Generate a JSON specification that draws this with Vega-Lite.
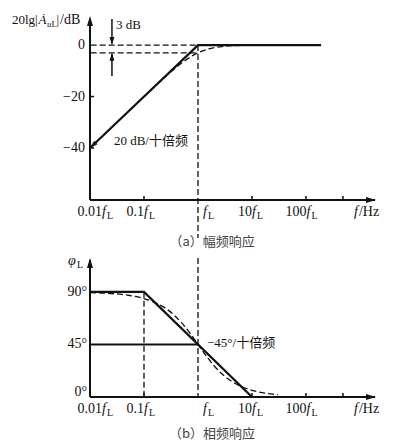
{
  "$schema": "https://vega.github.io/schema/vega-lite/v6.json",
  "padding": {"left": 12, "top": 13, "right": 0, "bottom": 0},
  "autosize": {"type": "pad"},
  "background": "white",
  "bounds": "flush",
  "spacing": 58,
  "config": {
    "view": {"stroke": null},
    "text": {"font": "Liberation Serif", "fontSize": 14, "color": "#111"}
  },
  "datasets": {
    "magSolid": [{"f": 0.01, "db": -40}, {"f": 1, "db": 0}, {"f": 190, "db": 0}],
    "magCurve": [
      {"f": 0.1, "db": -20.04}, {"f": 0.2, "db": -14.15}, {"f": 0.3, "db": -10.83},
      {"f": 0.5, "db": -6.99}, {"f": 0.7, "db": -4.83}, {"f": 1, "db": -3.01},
      {"f": 1.5, "db": -1.6}, {"f": 2, "db": -0.97}, {"f": 3, "db": -0.46},
      {"f": 5, "db": -0.17}, {"f": 10, "db": -0.04}
    ],
    "dashA": [
      {"f": 0.0103, "f2": 1, "db": 0, "db2": 0},
      {"f": 0.0103, "f2": 1, "db": -3, "db2": -3},
      {"f": 1, "f2": 1, "db": 0, "db2": -75}
    ],
    "ticksX": [{"f": 0.1}, {"f": 10}, {"f": 100}, {"f": 484}],
    "ticksYA": [{"db": -20}, {"db": -40}],
    "ylabA": [{"db": 0, "t": "0"}, {"db": -20, "t": "−20"}, {"db": -40, "t": "−40"}],
    "xlab": [
      {"num": "0.01", "at": 0.0167}, {"num": "0.1", "at": 0.1}, {"num": "", "at": 1.24},
      {"num": "10", "at": 10}, {"num": "100", "at": 102}
    ],
    "dbArrows": [{"f": 0.0255, "db": 10.1, "db2": 0.5}, {"f": 0.0255, "db": -12, "db2": -3.5}],
    "annA": [{"f": 0.0255, "db": 6.2, "t": "3 dB"}, {"f": 0.0234, "db": -38.9, "t": "20 dB/十倍频"}],
    "capA": [{"f": 1.82, "db": -76.5, "t": "（a）幅频响应"}],
    "phSolid": [{"f": 0.01, "deg": 90}, {"f": 0.1, "deg": 90}, {"f": 10, "deg": 0}],
    "phCurve": [
      {"f": 0.01, "deg": 89.43}, {"f": 0.02, "deg": 88.85}, {"f": 0.05, "deg": 87.14},
      {"f": 0.1, "deg": 84.29}, {"f": 0.2, "deg": 78.69}, {"f": 0.3, "deg": 73.3},
      {"f": 0.5, "deg": 63.43}, {"f": 0.7, "deg": 55.01}, {"f": 1, "deg": 45},
      {"f": 1.5, "deg": 33.69}, {"f": 2, "deg": 26.57}, {"f": 3, "deg": 18.43},
      {"f": 5, "deg": 11.31}, {"f": 7, "deg": 8.13}, {"f": 10, "deg": 5.71},
      {"f": 20, "deg": 2.86}, {"f": 30, "deg": 1.91}
    ],
    "solidB": [{"f": 0.01, "f2": 1, "deg": 45, "deg2": 45}],
    "dashB": [{"f": 0.1, "f2": 0.1, "deg": 90, "deg2": 0}, {"f": 1, "f2": 1, "deg": 119, "deg2": 0}],
    "ylabB": [{"deg": 90, "t": "90°"}, {"deg": 45, "t": "45°"}, {"deg": 4, "t": "0°"}],
    "annB": [{"f": 1.468, "deg": 42.9, "t": "−45°/十倍频"}],
    "capB": [{"f": 1.82, "deg": -31.7, "t": "（b）相频响应"}]
  },
  "vconcat": [
    {
      "width": 286,
      "height": 184,
      "layer": [
        {
          "data": {"values": [{}]},
          "mark": {"type": "rule", "strokeWidth": 2, "color": "#111"},
          "encoding": {
            "x": {"datum": 0.01, "type": "quantitative", "scale": {"type": "log", "domain": [0.01, 1980], "nice": false}, "axis": null},
            "y": {"datum": -60.2, "type": "quantitative", "scale": {"domain": [-60.2, 11.3], "nice": false, "zero": false}, "axis": null},
            "y2": {"datum": 9}
          }
        },
        {
          "data": {"values": [{}]},
          "mark": {"type": "rule", "strokeWidth": 2, "color": "#111"},
          "encoding": {"x": {"datum": 0.01, "type": "quantitative"}, "x2": {"datum": 1900}, "y": {"datum": -60.2, "type": "quantitative"}}
        },
        {
          "data": {"values": [{}]},
          "mark": {"type": "point", "shape": "M0,0L-0.6,2L0.6,2Z", "filled": true, "size": 100, "color": "#111", "opacity": 1, "strokeWidth": 0},
          "encoding": {"x": {"datum": 0.01, "type": "quantitative"}, "y": {"datum": 11.3, "type": "quantitative"}}
        },
        {
          "data": {"values": [{}]},
          "mark": {"type": "point", "shape": "M0,0L-0.6,2L0.6,2Z", "filled": true, "size": 100, "angle": 90, "color": "#111", "opacity": 1, "strokeWidth": 0},
          "encoding": {"x": {"datum": 1980, "type": "quantitative"}, "y": {"datum": -60.2, "type": "quantitative"}}
        },
        {
          "data": {"name": "ticksX"},
          "mark": {"type": "rule", "strokeWidth": 1.5, "color": "#111"},
          "encoding": {"x": {"field": "f", "type": "quantitative"}, "y": {"datum": -60.2, "type": "quantitative"}, "y2": {"datum": -58.6}}
        },
        {
          "data": {"name": "ticksYA"},
          "mark": {"type": "rule", "strokeWidth": 1.5, "color": "#111"},
          "encoding": {"x": {"datum": 0.01, "type": "quantitative"}, "x2": {"datum": 0.0119}, "y": {"field": "db", "type": "quantitative"}}
        },
        {
          "data": {"name": "dashA"},
          "mark": {"type": "rule", "strokeWidth": 1.3, "strokeDash": [6, 3], "color": "#111"},
          "encoding": {
            "x": {"field": "f", "type": "quantitative"}, "x2": {"field": "f2"},
            "y": {"field": "db", "type": "quantitative"}, "y2": {"field": "db2"}
          }
        },
        {
          "data": {"name": "magCurve"},
          "mark": {"type": "line", "strokeWidth": 1.3, "strokeDash": [6, 3], "color": "#111", "interpolate": "monotone"},
          "encoding": {"x": {"field": "f", "type": "quantitative"}, "y": {"field": "db", "type": "quantitative"}}
        },
        {
          "data": {"name": "magSolid"},
          "mark": {"type": "line", "strokeWidth": 2.2, "color": "#111"},
          "encoding": {"x": {"field": "f", "type": "quantitative"}, "y": {"field": "db", "type": "quantitative"}}
        },
        {
          "data": {"values": [{}]},
          "mark": {"type": "point", "shape": "M0,0L-0.6,2L0.6,2Z", "filled": true, "size": 64, "angle": 227, "color": "#111", "opacity": 1, "strokeWidth": 0},
          "encoding": {"x": {"datum": 0.01, "type": "quantitative"}, "y": {"datum": -40, "type": "quantitative"}}
        },
        {
          "data": {"name": "dbArrows"},
          "mark": {"type": "rule", "strokeWidth": 1.5, "color": "#111"},
          "encoding": {"x": {"field": "f", "type": "quantitative"}, "y": {"field": "db", "type": "quantitative"}, "y2": {"field": "db2"}}
        },
        {
          "data": {"values": [{}]},
          "mark": {"type": "point", "shape": "M0,0L-0.6,2L0.6,2Z", "filled": true, "size": 64, "angle": 180, "color": "#111", "opacity": 1, "strokeWidth": 0},
          "encoding": {"x": {"datum": 0.0255, "type": "quantitative"}, "y": {"datum": 0, "type": "quantitative"}}
        },
        {
          "data": {"values": [{}]},
          "mark": {"type": "point", "shape": "M0,0L-0.6,2L0.6,2Z", "filled": true, "size": 64, "angle": 0, "color": "#111", "opacity": 1, "strokeWidth": 0},
          "encoding": {"x": {"datum": 0.0255, "type": "quantitative"}, "y": {"datum": -3, "type": "quantitative"}}
        },
        {
          "data": {"name": "ylabA"},
          "mark": {"type": "text", "align": "right", "baseline": "middle", "dx": -5},
          "encoding": {"x": {"datum": 0.01, "type": "quantitative"}, "y": {"field": "db", "type": "quantitative"}, "text": {"field": "t"}}
        },
        {
          "data": {"name": "xlab"},
          "mark": {"type": "text", "align": "right", "baseline": "alphabetic", "dy": 16},
          "encoding": {"x": {"field": "at", "type": "quantitative"}, "y": {"datum": -60.2, "type": "quantitative"}, "text": {"field": "num"}}
        },
        {
          "data": {"name": "xlab"},
          "mark": {"type": "text", "align": "left", "baseline": "alphabetic", "dy": 16, "fontStyle": "italic", "text": "f"},
          "encoding": {"x": {"field": "at", "type": "quantitative"}, "y": {"datum": -60.2, "type": "quantitative"}}
        },
        {
          "data": {"name": "xlab"},
          "mark": {"type": "text", "align": "left", "baseline": "alphabetic", "dy": 19, "dx": 5, "fontSize": 10, "text": "L"},
          "encoding": {"x": {"field": "at", "type": "quantitative"}, "y": {"datum": -60.2, "type": "quantitative"}}
        },
        {
          "data": {"values": [{}]},
          "mark": {"type": "text", "align": "left", "baseline": "alphabetic", "dy": 16, "fontStyle": "italic", "text": "f"},
          "encoding": {"x": {"datum": 774, "type": "quantitative"}, "y": {"datum": -60.2, "type": "quantitative"}}
        },
        {
          "data": {"values": [{}]},
          "mark": {"type": "text", "align": "left", "baseline": "alphabetic", "dy": 16, "dx": 5, "text": "/Hz"},
          "encoding": {"x": {"datum": 774, "type": "quantitative"}, "y": {"datum": -60.2, "type": "quantitative"}}
        },
        {
          "data": {"values": [{}]},
          "mark": {"type": "text", "align": "left", "baseline": "alphabetic", "dx": -78, "dy": 8, "fontSize": 13, "text": "20lg"},
          "encoding": {"x": {"datum": 0.01, "type": "quantitative"}, "y": {"datum": 11.3, "type": "quantitative"}}
        },
        {
          "data": {"values": [{}]},
          "mark": {"type": "text", "align": "left", "baseline": "alphabetic", "dx": -55, "dy": 8, "fontSize": 13, "text": "|"},
          "encoding": {"x": {"datum": 0.01, "type": "quantitative"}, "y": {"datum": 11.3, "type": "quantitative"}}
        },
        {
          "data": {"values": [{}]},
          "mark": {"type": "text", "align": "left", "baseline": "alphabetic", "dx": -51.5, "dy": 8, "fontSize": 13, "fontStyle": "italic", "text": "Ȧ"},
          "encoding": {"x": {"datum": 0.01, "type": "quantitative"}, "y": {"datum": 11.3, "type": "quantitative"}}
        },
        {
          "data": {"values": [{}]},
          "mark": {"type": "text", "align": "left", "baseline": "alphabetic", "dx": -43, "dy": 11, "fontSize": 9, "fontStyle": "italic", "text": "u"},
          "encoding": {"x": {"datum": 0.01, "type": "quantitative"}, "y": {"datum": 11.3, "type": "quantitative"}}
        },
        {
          "data": {"values": [{}]},
          "mark": {"type": "text", "align": "left", "baseline": "alphabetic", "dx": -38.5, "dy": 11, "fontSize": 9, "text": "L"},
          "encoding": {"x": {"datum": 0.01, "type": "quantitative"}, "y": {"datum": 11.3, "type": "quantitative"}}
        },
        {
          "data": {"values": [{}]},
          "mark": {"type": "text", "align": "left", "baseline": "alphabetic", "dx": -33.5, "dy": 8, "fontSize": 13, "text": "|"},
          "encoding": {"x": {"datum": 0.01, "type": "quantitative"}, "y": {"datum": 11.3, "type": "quantitative"}}
        },
        {
          "data": {"values": [{}]},
          "mark": {"type": "text", "align": "left", "baseline": "alphabetic", "dx": -30, "dy": 8, "fontSize": 14, "text": "/dB"},
          "encoding": {"x": {"datum": 0.01, "type": "quantitative"}, "y": {"datum": 11.3, "type": "quantitative"}}
        },
        {
          "data": {"name": "annA"},
          "mark": {"type": "text", "align": "left", "baseline": "alphabetic", "dx": 4, "fontSize": 13, "font": "Liberation Serif, Noto Sans CJK SC"},
          "encoding": {"x": {"field": "f", "type": "quantitative"}, "y": {"field": "db", "type": "quantitative"}, "text": {"field": "t"}}
        },
        {
          "data": {"name": "capA"},
          "mark": {"type": "text", "align": "center", "baseline": "middle", "fontSize": 13, "color": "#444", "font": "Noto Sans CJK SC"},
          "encoding": {"x": {"field": "f", "type": "quantitative"}, "y": {"field": "db", "type": "quantitative"}, "text": {"field": "t"}}
        }
      ]
    },
    {
      "width": 286,
      "height": 139,
      "layer": [
        {
          "data": {"values": [{}]},
          "mark": {"type": "rule", "strokeWidth": 2, "color": "#111"},
          "encoding": {
            "x": {"datum": 0.01, "type": "quantitative", "scale": {"type": "log", "domain": [0.01, 1980], "nice": false}, "axis": null},
            "y": {"datum": 0, "type": "quantitative", "scale": {"domain": [0, 119], "nice": false, "zero": false}, "axis": null},
            "y2": {"datum": 117}
          }
        },
        {
          "data": {"values": [{}]},
          "mark": {"type": "rule", "strokeWidth": 2, "color": "#111"},
          "encoding": {"x": {"datum": 0.01, "type": "quantitative"}, "x2": {"datum": 1900}, "y": {"datum": 0, "type": "quantitative"}}
        },
        {
          "data": {"values": [{}]},
          "mark": {"type": "point", "shape": "M0,0L-0.6,2L0.6,2Z", "filled": true, "size": 100, "color": "#111", "opacity": 1, "strokeWidth": 0},
          "encoding": {"x": {"datum": 0.01, "type": "quantitative"}, "y": {"datum": 119, "type": "quantitative"}}
        },
        {
          "data": {"values": [{}]},
          "mark": {"type": "point", "shape": "M0,0L-0.6,2L0.6,2Z", "filled": true, "size": 100, "angle": 90, "color": "#111", "opacity": 1, "strokeWidth": 0},
          "encoding": {"x": {"datum": 1980, "type": "quantitative"}, "y": {"datum": 0, "type": "quantitative"}}
        },
        {
          "data": {"name": "ticksX"},
          "mark": {"type": "rule", "strokeWidth": 1.5, "color": "#111"},
          "encoding": {"x": {"field": "f", "type": "quantitative"}, "y": {"datum": 0, "type": "quantitative"}, "y2": {"datum": 3.4}}
        },
        {
          "data": {"name": "dashB"},
          "mark": {"type": "rule", "strokeWidth": 1.3, "strokeDash": [6, 3], "color": "#111"},
          "encoding": {
            "x": {"field": "f", "type": "quantitative"}, "x2": {"field": "f2"},
            "y": {"field": "deg", "type": "quantitative"}, "y2": {"field": "deg2"}
          }
        },
        {
          "data": {"name": "solidB"},
          "mark": {"type": "rule", "strokeWidth": 2, "color": "#111"},
          "encoding": {
            "x": {"field": "f", "type": "quantitative"}, "x2": {"field": "f2"},
            "y": {"field": "deg", "type": "quantitative"}
          }
        },
        {
          "data": {"name": "phCurve"},
          "mark": {"type": "line", "strokeWidth": 1.3, "strokeDash": [6, 3], "color": "#111", "interpolate": "monotone"},
          "encoding": {"x": {"field": "f", "type": "quantitative"}, "y": {"field": "deg", "type": "quantitative"}}
        },
        {
          "data": {"name": "phSolid"},
          "mark": {"type": "line", "strokeWidth": 2.2, "color": "#111"},
          "encoding": {"x": {"field": "f", "type": "quantitative"}, "y": {"field": "deg", "type": "quantitative"}}
        },
        {
          "data": {"name": "ylabB"},
          "mark": {"type": "text", "align": "right", "baseline": "middle", "dx": -3},
          "encoding": {"x": {"datum": 0.01, "type": "quantitative"}, "y": {"field": "deg", "type": "quantitative"}, "text": {"field": "t"}}
        },
        {
          "data": {"name": "xlab"},
          "mark": {"type": "text", "align": "right", "baseline": "alphabetic", "dy": 16},
          "encoding": {"x": {"field": "at", "type": "quantitative"}, "y": {"datum": 0, "type": "quantitative"}, "text": {"field": "num"}}
        },
        {
          "data": {"name": "xlab"},
          "mark": {"type": "text", "align": "left", "baseline": "alphabetic", "dy": 16, "fontStyle": "italic", "text": "f"},
          "encoding": {"x": {"field": "at", "type": "quantitative"}, "y": {"datum": 0, "type": "quantitative"}}
        },
        {
          "data": {"name": "xlab"},
          "mark": {"type": "text", "align": "left", "baseline": "alphabetic", "dy": 19, "dx": 5, "fontSize": 10, "text": "L"},
          "encoding": {"x": {"field": "at", "type": "quantitative"}, "y": {"datum": 0, "type": "quantitative"}}
        },
        {
          "data": {"values": [{}]},
          "mark": {"type": "text", "align": "left", "baseline": "alphabetic", "dy": 16, "fontStyle": "italic", "text": "f"},
          "encoding": {"x": {"datum": 774, "type": "quantitative"}, "y": {"datum": 0, "type": "quantitative"}}
        },
        {
          "data": {"values": [{}]},
          "mark": {"type": "text", "align": "left", "baseline": "alphabetic", "dy": 16, "dx": 5, "text": "/Hz"},
          "encoding": {"x": {"datum": 774, "type": "quantitative"}, "y": {"datum": 0, "type": "quantitative"}}
        },
        {
          "data": {"values": [{}]},
          "mark": {"type": "text", "align": "left", "baseline": "alphabetic", "dx": -22, "dy": 7, "fontSize": 14, "fontStyle": "italic", "text": "φ"},
          "encoding": {"x": {"datum": 0.01, "type": "quantitative"}, "y": {"datum": 119, "type": "quantitative"}}
        },
        {
          "data": {"values": [{}]},
          "mark": {"type": "text", "align": "left", "baseline": "alphabetic", "dx": -13, "dy": 10, "fontSize": 10, "text": "L"},
          "encoding": {"x": {"datum": 0.01, "type": "quantitative"}, "y": {"datum": 119, "type": "quantitative"}}
        },
        {
          "data": {"name": "annB"},
          "mark": {"type": "text", "align": "left", "baseline": "alphabetic", "fontSize": 13, "font": "Liberation Serif, Noto Sans CJK SC"},
          "encoding": {"x": {"field": "f", "type": "quantitative"}, "y": {"field": "deg", "type": "quantitative"}, "text": {"field": "t"}}
        },
        {
          "data": {"name": "capB"},
          "mark": {"type": "text", "align": "center", "baseline": "middle", "fontSize": 13, "color": "#444", "font": "Noto Sans CJK SC"},
          "encoding": {"x": {"field": "f", "type": "quantitative"}, "y": {"field": "deg", "type": "quantitative"}, "text": {"field": "t"}}
        }
      ]
    }
  ]
}
